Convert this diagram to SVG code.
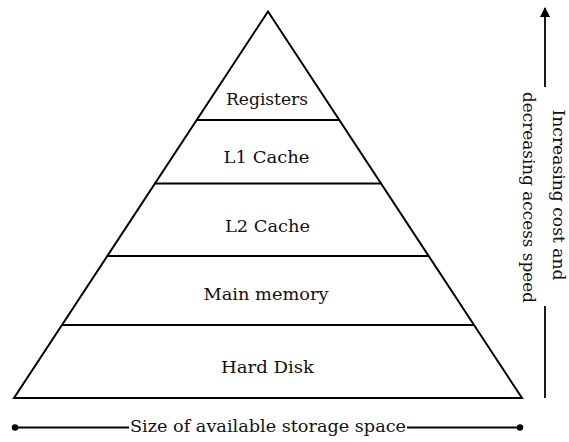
<svg xmlns="http://www.w3.org/2000/svg" width="569" height="442" viewBox="0 0 569 442">
  <style>
    .outline { fill: none; stroke: #000; stroke-width: 2; stroke-linejoin: miter; }
    .tier { stroke: #000; stroke-width: 1.8; }
    .axis { stroke: #000; stroke-width: 1.8; fill: none; }
    text { font-family: 'DejaVu Serif', 'Liberation Serif', serif; font-size: 17px; fill: #111; text-anchor: middle; }
  </style>
  <defs>
    <marker id="arrowhead" viewBox="0 0 10 10" refX="9" refY="5" markerWidth="10" markerHeight="10" markerUnits="userSpaceOnUse" orient="auto">
      <path d="M0,0 L10,5 L0,10 Z" fill="#000"/>
    </marker>
  </defs>

  <!-- pyramid outline -->
  <g id="pyramid">
    <path class="outline" d="M268,11.5 L522,398 L14,398 Z"/>
  </g>

  <!-- tier boundaries and labels -->
  <g id="registers">
    <line class="tier" x1="196.3" y1="120" x2="339.7" y2="120"/>
    <text x="267" y="105" textLength="82" lengthAdjust="spacingAndGlyphs">Registers</text>
  </g>
  <g id="l1-cache">
    <line class="tier" x1="154.6" y1="183.5" x2="381.4" y2="183.5"/>
    <text x="266.5" y="163" textLength="86" lengthAdjust="spacingAndGlyphs">L1 Cache</text>
  </g>
  <g id="l2-cache">
    <line class="tier" x1="106.9" y1="256" x2="429.1" y2="256"/>
    <text x="267.5" y="232" textLength="85" lengthAdjust="spacingAndGlyphs">L2 Cache</text>
  </g>
  <g id="main-memory">
    <line class="tier" x1="62" y1="325" x2="474" y2="325"/>
    <text x="266" y="300" textLength="125" lengthAdjust="spacingAndGlyphs">Main memory</text>
  </g>
  <g id="hard-disk">
    <text x="267.5" y="372.5" textLength="93" lengthAdjust="spacingAndGlyphs">Hard Disk</text>
  </g>

  <!-- axes -->
  <g id="connectors">
    <!-- vertical: cost / speed -->
    <line class="axis" x1="545" y1="398" x2="545" y2="306"/>
    <line class="axis" x1="545" y1="87" x2="545" y2="8" marker-end="url(#arrowhead)"/>
    <!-- horizontal: storage size -->
    <line class="axis" x1="15" y1="427.5" x2="129" y2="427.5"/>
    <line class="axis" x1="407" y1="427.5" x2="520" y2="427.5"/>
    <circle cx="15" cy="427.5" r="3.2" fill="#000"/>
    <circle cx="520" cy="427.5" r="3.2" fill="#000"/>
  </g>

  <g id="axis-labels">
    <text x="268" y="432" textLength="276" lengthAdjust="spacingAndGlyphs">Size of available storage space</text>
    <text transform="translate(553.3,195) rotate(90)" x="0" y="0" textLength="171" lengthAdjust="spacingAndGlyphs">Increasing cost and</text>
    <text transform="translate(522.7,197.5) rotate(90)" x="0" y="0" textLength="211" lengthAdjust="spacingAndGlyphs">decreasing access speed</text>
  </g>
</svg>
